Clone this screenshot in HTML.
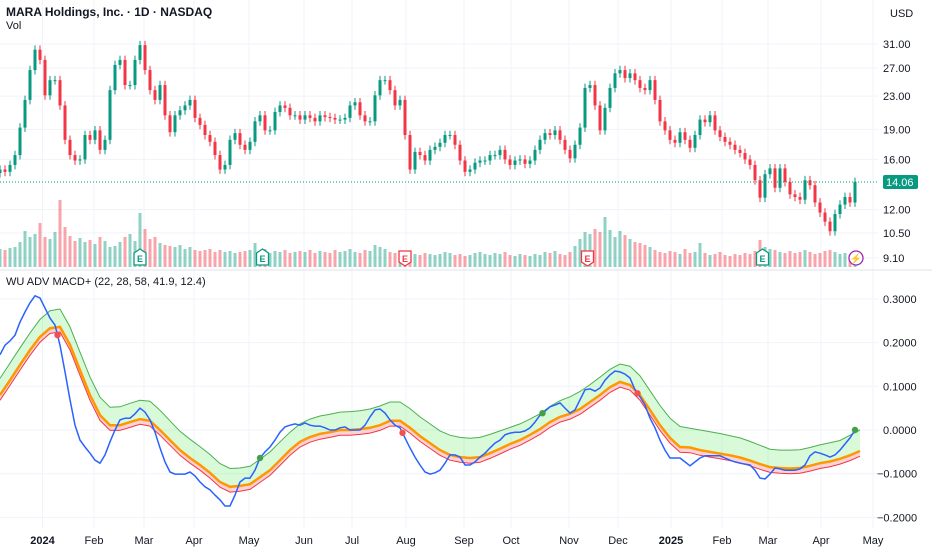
<!DOCTYPE html>
<html><head><meta charset="utf-8"><style>
body{margin:0;background:#fff;font-family:"Liberation Sans",sans-serif;}
svg{display:block}
text{font-family:"Liberation Sans",sans-serif;}
</style></head><body>
<svg id="c" width="932" height="550" xmlns="http://www.w3.org/2000/svg"></svg>
<script>
const closes=[15.1,14.9,15.5,16.4,19.2,22.5,26.7,30.0,28.3,23.1,25.2,25.2,21.8,17.9,16.4,15.9,16.0,18.4,17.9,18.9,16.9,17.9,23.8,27.5,28.3,24.5,24.5,28.3,30.8,26.7,23.8,22.5,24.5,20.6,18.7,20.6,21.2,21.8,22.5,20.3,19.5,18.4,17.7,16.4,15.1,15.5,17.9,18.6,17.4,16.9,17.7,19.9,20.6,18.9,18.9,21.0,21.8,21.5,20.6,20.6,20.1,20.6,20.3,19.9,20.6,20.4,20.3,20.1,20.1,20.3,21.8,22.2,20.6,19.9,19.9,23.1,25.2,25.2,23.8,21.8,22.5,18.4,15.1,16.7,16.4,15.9,16.9,17.2,17.6,18.4,18.4,17.4,15.9,14.9,15.1,15.7,15.9,15.9,16.4,16.4,16.9,16.0,15.5,15.9,16.0,15.6,15.9,16.9,17.9,18.6,18.4,18.9,17.9,16.9,16.1,17.4,19.2,24.1,24.5,21.8,18.9,21.5,24.1,26.2,26.7,25.5,26.2,25.2,24.1,23.8,25.2,22.5,19.9,18.9,17.9,17.6,18.7,17.9,17.1,18.4,20.1,19.8,20.6,18.9,18.2,17.7,17.4,16.9,16.6,16.0,15.5,14.2,12.85,14.7,15.2,13.6,15.2,14.06,13.1,12.9,12.7,14.2,13.8,12.5,11.8,11.2,10.6,11.7,12.35,12.9,12.5,14.06];
const volumes=[36,34,38,40,50,72,60,66,88,60,56,70,134,80,62,52,58,50,54,46,60,52,40,42,50,60,66,52,108,76,56,60,48,44,42,40,44,36,40,34,32,34,36,30,34,30,32,28,30,32,34,48,30,36,28,32,30,34,28,30,32,30,34,28,32,30,28,34,30,32,36,30,28,34,32,44,40,36,30,28,24,30,22,26,24,28,26,24,26,30,28,24,26,22,24,28,30,26,24,28,26,30,24,22,26,24,22,26,24,30,28,32,26,24,30,42,56,70,66,76,70,100,74,60,72,64,56,50,48,44,40,34,30,28,32,30,26,36,28,30,48,28,24,26,30,24,22,26,24,28,26,32,54,40,36,34,30,28,32,28,30,34,30,26,28,32,34,30,26,28,24,26];
const macd=[.172,.194,.204,.217,.247,.270,.291,.307,.302,.279,.256,.240,.194,.133,.069,.011,-.023,-.039,-.053,-.069,-.076,-.057,-.027,0,.023,.027,.027,.037,.050,.041,.023,-.005,-.041,-.073,-.096,-.101,-.101,-.101,-.096,-.105,-.119,-.130,-.137,-.149,-.160,-.174,-.174,-.149,-.119,-.110,-.110,-.092,-.064,-.050,-.039,-.023,-.005,.007,.011,.014,.011,.016,.011,.009,.009,.005,0,0,.005,.007,0,0,0,.011,.030,.046,.048,.039,.023,.011,.005,-.018,-.041,-.062,-.080,-.096,-.101,-.098,-.092,-.076,-.057,-.057,-.062,-.080,-.080,-.073,-.062,-.053,-.041,-.030,-.023,-.011,-.007,-.005,-.005,-.002,.005,.018,.034,.043,.053,.057,.062,.050,.039,.046,.069,.092,.094,.089,.096,.114,.126,.135,.133,.128,.119,.092,.076,.057,.027,.005,-.023,-.046,-.064,-.064,-.064,-.073,-.082,-.073,-.064,-.059,-.059,-.059,-.059,-.064,-.069,-.073,-.076,-.078,-.080,-.092,-.110,-.112,-.101,-.087,-.089,-.092,-.092,-.092,-.089,-.080,-.059,-.050,-.053,-.057,-.062,-.057,-.046,-.032,-.018,0];
const signal=[.080,.114,.149,.183,.213,.233,.236,.195,.137,.080,.034,.011,.011,.018,.025,.021,0,-.023,-.046,-.064,-.080,-.098,-.119,-.130,-.128,-.124,-.108,-.092,-.069,-.046,-.027,-.016,-.009,-.005,0,0,.002,.005,.011,.021,.021,.005,-.014,-.030,-.046,-.057,-.062,-.064,-.062,-.053,-.043,-.032,-.023,-.011,.002,.018,.030,.037,.048,.064,.080,.098,.110,.103,.080,.046,.011,-.018,-.039,-.040,-.046,-.050,-.054,-.058,-.063,-.070,-.078,-.085,-.087,-.088,-.087,-.082,-.076,-.072,-.066,-.058,-.048];
const upper=[.118,.153,.188,.222,.253,.273,.277,.236,.178,.121,.075,.052,.053,.061,.068,.066,.045,.021,-.003,-.021,-.038,-.056,-.077,-.088,-.087,-.083,-.067,-.050,-.027,-.005,.014,.025,.032,.036,.041,.042,.044,.048,.055,.064,.064,.049,.030,.014,-.002,-.012,-.017,-.019,-.017,-.010,-.002,.006,.014,.025,.037,.054,.067,.076,.088,.104,.121,.139,.151,.146,.124,.090,.056,.027,.008,.004,0,-.004,-.008,-.013,-.018,-.026,-.035,-.044,-.046,-.046,-.045,-.040,-.034,-.029,-.024,-.012,0];
const lower=[.068,.102,.137,.171,.201,.221,.224,.183,.125,.068,.022,-.001,-.001,.006,.013,.009,-.012,-.035,-.058,-.076,-.092,-.110,-.131,-.142,-.140,-.136,-.120,-.104,-.081,-.058,-.039,-.028,-.021,-.017,-.012,-.012,-.010,-.007,-.001,.009,.009,-.007,-.026,-.042,-.058,-.069,-.074,-.076,-.074,-.065,-.055,-.044,-.035,-.023,-.010,.006,.018,.025,.036,.052,.068,.086,.098,.091,.068,.034,-.001,-.030,-.051,-.052,-.058,-.062,-.066,-.070,-.075,-.082,-.090,-.097,-.099,-.100,-.099,-.094,-.088,-.084,-.078,-.070,-.060];
const markerBars=[23,104,161,217,255,342];
const markerTypes=['down','up','down','up','down','up'];
const earningsBars=[56,105,162,235,305];
const earningsTypes=['up','up','down','down','up'];
const priceTicks=[31,27,23,19,16,12,10.5,9.1];
const macdTicks=[0.3,0.2,0.1,0,-0.1,-0.2];
const monthLabels=['2024','Feb','Mar','Apr','May','Jun','Jul','Aug','Sep','Oct','Nov','Dec','2025','Feb','Mar','Apr','May'];
const monthBars=[17,37.6,57.6,77.6,99.6,121.6,140.8,162.4,185.6,204.4,227.6,247.2,268.4,288.8,307.2,328.4,349.2];
const lastPrice=14.06;

const NS='http://www.w3.org/2000/svg';
const svg=document.getElementById('c');
function el(tag,attrs,parent){const e=document.createElementNS(NS,tag);for(const k in attrs)e.setAttribute(k,attrs[k]);(parent||svg).appendChild(e);return e;}
const xB=b=>b*2.5;
const yP=p=>44+(Math.log(31)-Math.log(p))*174.5;
const yM=v=>430-v*437;
const UP='#089981',DN='#f23645';

const grid=el('g',{});


monthBars.forEach(b=>{el('line',{x1:xB(b),x2:xB(b),y1:0,y2:528,stroke:'#f0f3fa','stroke-width':1},grid);});
priceTicks.forEach(p=>{el('line',{x1:0,x2:878,y1:yP(p),y2:yP(p),stroke:'#f0f3fa'},grid);});
macdTicks.forEach(v=>{el('line',{x1:0,x2:878,y1:yM(v),y2:yM(v),stroke:'#f0f3fa'},grid);});
el('line',{x1:0,x2:932,y1:270,y2:270,stroke:'#e0e3eb'},grid);

const vg=el('g',{});


volumes.forEach((v,i)=>{
  const up=i===0||closes[i]>=closes[i-1];
  const r=el('rect',{x:xB(2*i)-1.5,y:267-v*0.5,width:3,height:v*0.5,fill:up?'rgba(8,153,129,0.45)':'rgba(242,54,69,0.45)'},vg);
  
  
});

const cg=el('g',{});


closes.forEach((c,i)=>{
  const o=i===0?c*0.98:closes[i-1];
  const up=c>=o;const col=up?UP:DN;
  const hi=Math.max(o,c)*1.025, lo=Math.min(o,c)*0.975;
  const x=xB(2*i);
  const g=el('g',{},cg);
  
  
  el('line',{x1:x,x2:x,y1:yP(hi),y2:yP(lo),stroke:col,'stroke-width':1},g);
  const y1=yP(Math.max(o,c)),y2=yP(Math.min(o,c));
  el('rect',{x:x-1.5,y:y1,width:3,height:Math.max(1,y2-y1),fill:col},g);
});

const lp=el('line',{x1:0,x2:878,y1:yP(lastPrice),y2:yP(lastPrice),stroke:UP,'stroke-dasharray':'1 2','stroke-width':1});



earningsBars.forEach((b,i)=>{
  const x=xB(b),col=earningsTypes[i]==='up'?UP:DN;
  const g=el('g',{});
  
  
  const d=earningsTypes[i]==='up'
    ?`M${x-6},253 L${x},249 L${x+6},253 L${x+6},265 L${x-6},265 Z`
    :`M${x-6},251 L${x+6},251 L${x+6},262 L${x},266 L${x-6},262 Z`;
  el('path',{d:d,fill:'#fff',stroke:col,'stroke-width':1.3},g);
  const t=el('text',{x:x,y:262,'text-anchor':'middle','font-size':9,'font-weight':'bold',fill:col},g);t.textContent='E';
});
const lg=el('g',{});


el('circle',{cx:856,cy:258,r:7,fill:'#fff',stroke:'#9c27b0','stroke-width':1.3},lg);
const lt=el('text',{x:856,y:262,'text-anchor':'middle','font-size':10,fill:'#9c27b0'},lg);lt.textContent='⚡';

function path(arr,step){return arr.map((v,i)=>(i?'L':'M')+xB(i*step).toFixed(1)+','+yM(v).toFixed(1)).join(' ');}
function band(a,b,step){let d=a.map((v,i)=>(i?'L':'M')+xB(i*step)+','+yM(v)).join(' ');for(let i=b.length-1;i>=0;i--)d+=' L'+xB(i*step)+','+yM(b[i]);return d+' Z';}
const gf=el('path',{d:band(upper,signal,4),fill:'rgba(76,230,80,0.22)'});


const rf=el('path',{d:band(signal,lower,4),fill:'rgba(242,54,69,0.22)'});


const ul=el('path',{d:path(upper,4),fill:'none',stroke:'#4caf50','stroke-width':1});


const ll=el('path',{d:path(lower,4),fill:'none',stroke:'#f23645','stroke-width':1});


const sl=el('path',{d:path(signal,4),fill:'none',stroke:'#ff9800','stroke-width':2.5});


const ml=el('path',{d:path(macd,2),fill:'none',stroke:'#2962ff','stroke-width':1.5});


markerBars.forEach((b,i)=>{
  const f=b/2,i0=Math.floor(f),i1=Math.min(macd.length-1,i0+1),t=f-i0;
  const v=macd[i0]*(1-t)+macd[i1]*t;
  const c=el('circle',{cx:xB(b),cy:yM(v),r:3.2,fill:markerTypes[i]==='up'?'#43a047':'#ef5350'});
  
  
});

function txt(x,y,s,attrs,name){const t=el('text',Object.assign({x:x,y:y,'font-size':11,fill:'#131722'},attrs||{}));t.textContent=s;return t;}
priceTicks.forEach(p=>txt(883,yP(p)+4,p.toFixed(2),{},'price-tick-label'));
macdTicks.forEach(v=>txt(v<0?877:883,yM(v)+4,(v<0?'\u2212':'')+Math.abs(v).toFixed(4),{},'macd-tick-label'));
txt(890,17,'USD',{},'currency-label');
const box=el('rect',{x:883,y:yP(lastPrice)-7,width:35,height:14,rx:2,fill:UP});


txt(886,yP(lastPrice)+4,lastPrice.toFixed(2),{fill:'#fff'},'last-price-label');
monthLabels.forEach((m,i)=>txt(xB(monthBars[i]),544,m,{'text-anchor':'middle','font-weight':/^\d/.test(m)?'bold':'normal'},'x-axis-label'));
txt(6,16,'MARA Holdings, Inc. · 1D · NASDAQ',{'font-size':12,'font-weight':'bold'},'chart-title');
txt(6,29,'Vol',{'font-size':11},'volume-legend');
txt(6,285,'WU ADV MACD+ (22, 28, 58, 41.9, 12.4)',{'font-size':11},'indicator-legend');
</script>
</body></html>
